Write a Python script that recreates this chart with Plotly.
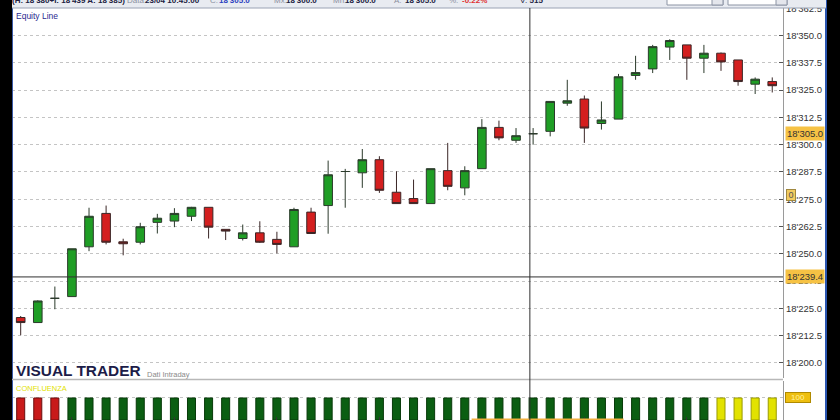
import plotly.graph_objects as go

# ---------------- data ----------------
bar_index = list(range(45))
opens = [18220.8, 18218.5, 18229.6, 18230.4, 18253.2, 18268.5, 18255.5, 18255.3, 18264.4, 18265.0,
         18267.2, 18271.3, 18261.2, 18257.0, 18259.6, 18256.6, 18253.2, 18269.1, 18272.1, 18287.7,
         18287.1, 18293.1, 18278.2, 18275.3, 18273.0, 18288.1, 18280.2, 18289.0, 18307.9, 18302.0,
         18305.0, 18306.1, 18319.0, 18320.9, 18309.7, 18311.7, 18331.7, 18334.7, 18344.7, 18345.7,
         18339.6, 18341.9, 18338.8, 18327.7, 18328.9]
highs = [18221.5, 18228.7, 18235.0, 18252.3, 18271.1, 18272.1, 18256.9, 18264.2, 18268.3, 18270.9,
         18271.5, 18271.3, 18261.2, 18263.4, 18264.9, 18260.1, 18271.1, 18271.1, 18292.7, 18288.9,
         18298.0, 18294.7, 18287.8, 18284.0, 18289.0, 18300.8, 18290.1, 18311.7, 18311.0, 18307.6,
         18307.6, 18319.8, 18329.7, 18322.5, 18319.8, 18332.4, 18340.7, 18345.7, 18348.3, 18345.7,
         18345.7, 18342.2, 18338.8, 18330.8, 18330.8]
lows = [18212.7, 18218.5, 18224.6, 18230.4, 18251.2, 18254.3, 18249.3, 18254.3, 18259.3, 18262.2,
        18265.0, 18257.0, 18256.3, 18256.1, 18255.0, 18250.2, 18253.2, 18259.3, 18259.2, 18271.1,
        18280.2, 18277.9, 18273.0, 18273.0, 18273.0, 18279.1, 18276.8, 18289.0, 18302.0, 18300.8,
        18300.0, 18303.8, 18317.8, 18300.8, 18306.9, 18311.7, 18329.7, 18332.8, 18338.8, 18329.7,
        18332.8, 18333.8, 18327.0, 18323.2, 18323.9]
closes = [18218.5, 18228.4, 18229.6, 18252.3, 18267.2, 18255.3, 18254.6, 18262.4, 18266.3, 18268.5,
          18271.3, 18262.2, 18260.4, 18259.6, 18255.3, 18254.3, 18270.3, 18259.3, 18286.2, 18287.7,
          18293.1, 18279.1, 18273.0, 18273.0, 18289.0, 18280.9, 18288.1, 18307.9, 18303.1, 18304.1,
          18305.0, 18319.8, 18320.1, 18307.6, 18311.3, 18331.1, 18333.0, 18344.9, 18347.7, 18339.6,
          18341.9, 18337.9, 18328.9, 18330.0, 18327.0]

confluenza_values = [100] * 45
confluenza_state = ["neg", "neg", "neg", "pos", "pos", "pos", "pos", "pos", "pos", "pos",
                    "pos", "pos", "pos", "pos", "pos", "pos", "pos", "pos", "pos", "pos",
                    "pos", "pos", "pos", "pos", "pos", "pos", "pos", "pos", "pos", "pos",
                    "pos", "pos", "pos", "pos", "pos", "pos", "pos", "pos", "pos", "pos",
                    "pos", "neu", "neu", "neu", "neu"]

y_ticks = [18200.0, 18212.5, 18225.0, 18237.5, 18250.0, 18262.5, 18275.0, 18287.5,
           18300.0, 18312.5, 18325.0, 18337.5, 18350.0, 18362.5]
y_tick_labels = ["18'200.0", "18'212.5", "18'225.0", "18'237.5", "18'250.0", "18'262.5", "18'275.0",
                 "18'287.5", "18'300.0", "18'312.5", "18'325.0", "18'337.5", "18'350.0", "18'362.5"]
time_tick_index = [3, 9, 15, 21, 27, 33, 39]
time_highlight = [26.4, 35.3]

cross_index = 29.81
cross_price = 18239.4
last_price = 18305.0
last_price_label = "18'305.0"
cross_price_label = "18'239.4"
indicator_zero_price = 18277.0
confluenza_label = "100"

# ---------------- layout helpers ----------------
W, H = 840, 420
ML, MR, MT, MB = 12, 57, 8, 0
PW, PH = W - ML - MR, H - MT - MB


def px_x(p):
    return (p - ML) / PW


def px_y(p):
    return (H - MB - p) / PH


state_colors = {"neg": "#c81a1a", "pos": "#0b5e12", "neu": "#e2e200"}
state_lines = {"neg": "#6a0e0e", "pos": "#083a0a", "neu": "#9a9a00"}

fig = go.Figure()
fig.add_trace(go.Candlestick(
    x=bar_index, open=opens, high=highs, low=lows, close=closes,
    increasing=dict(fillcolor="#1f9e25", line=dict(color="#2b3a2b", width=1)),
    decreasing=dict(fillcolor="#d41f1f", line=dict(color="#3a2626", width=1)),
    whiskerwidth=0, xaxis="x", yaxis="y", hoverinfo="skip", showlegend=False,
))
fig.add_trace(go.Bar(
    x=bar_index, y=confluenza_values, width=0.47,
    marker=dict(color=[state_colors[s] for s in confluenza_state],
                line=dict(color=[state_lines[s] for s in confluenza_state], width=1)),
    xaxis="x2", yaxis="y2", hoverinfo="skip", showlegend=False,
))

fam = "Liberation Sans, Arial, sans-serif"
tickfont = dict(family=fam, size=9.5, color="#333333")
fig.update_layout(
    width=W, height=H, margin=dict(l=ML, r=MR, t=MT, b=MB, pad=0),
    paper_bgcolor="white", plot_bgcolor="white", boxgap=0.28,
    showlegend=False, hovermode=False,
    xaxis=dict(domain=[0, 1], range=[-0.509, 44.63], showticklabels=False, showgrid=False,
               zeroline=False, ticks="", rangeslider=dict(visible=False), anchor="y",
               fixedrange=True),
    yaxis=dict(domain=[px_y(378), 1], range=[18193.1, 18362.6], side="right", anchor="x",
               tickvals=y_ticks, ticktext=y_tick_labels, tickfont=tickfont,
               ticks="inside", ticklen=4, tickcolor="#555555",
               showgrid=True, gridcolor="#c4c4c4", griddash="3px,3px", gridwidth=1,
               showline=True, linecolor="#9a9a9a", linewidth=1, zeroline=False),
    xaxis2=dict(domain=[0, 1], range=[-0.509, 44.63], matches="x", anchor="y2",
                showticklabels=False, showgrid=False, zeroline=False,
                tickvals=time_tick_index, ticks="inside", ticklen=3, tickcolor="#333333",
                showline=False),
    yaxis2=dict(domain=[0, px_y(381)], range=[0, 177], side="right", anchor="x2",
                tickvals=[100], showticklabels=False, ticks="",
                showgrid=True, gridcolor="#c4c4c4", griddash="3px,3px",
                showline=True, linecolor="#9a9a9a", zeroline=False),
)

shapes = []
# left black strip & right black frame
shapes.append(dict(type="rect", xref="paper", yref="paper", x0=px_x(0), x1=px_x(12),
                   y0=px_y(420), y1=px_y(0), fillcolor="black", line=dict(width=0), layer="above"))
shapes.append(dict(type="rect", xref="paper", yref="paper", x0=px_x(827), x1=px_x(840),
                   y0=px_y(420), y1=px_y(0), fillcolor="black", line=dict(width=0), layer="above"))
shapes.append(dict(type="line", xref="paper", yref="paper", x0=px_x(826), x1=px_x(826),
                   y0=px_y(420), y1=px_y(0), line=dict(color="#2a55b0", width=2), layer="above"))
shapes.append(dict(type="line", xref="paper", yref="paper", x0=px_x(12.5), x1=px_x(12.5),
                   y0=px_y(420), y1=px_y(8), line=dict(color="#3a5aa8", width=1), layer="above"))
# header strip
shapes.append(dict(type="rect", xref="paper", yref="paper", x0=px_x(12), x1=px_x(826),
                   y0=px_y(8), y1=px_y(0), fillcolor="#e8ebf1", line=dict(width=0), layer="above"))
shapes.append(dict(type="line", xref="paper", yref="paper", x0=px_x(12), x1=px_x(826),
                   y0=px_y(8), y1=px_y(8), line=dict(color="#9aa2b4", width=1), layer="above"))
for a, b in [(667, 723), (728, 787)]:
    shapes.append(dict(type="rect", xref="paper", yref="paper", x0=px_x(a), x1=px_x(b),
                       y0=px_y(5), y1=px_y(-2), fillcolor="white",
                       line=dict(color="#8c94a4", width=1), layer="above"))
    shapes.append(dict(type="rect", xref="paper", yref="paper", x0=px_x(b - 11), x1=px_x(b),
                       y0=px_y(5), y1=px_y(-2), fillcolor="#e4e6ec",
                       line=dict(color="#8c94a4", width=1), layer="above"))
# panel separator
shapes.append(dict(type="line", xref="paper", yref="paper", x0=0, x1=1,
                   y0=px_y(379.5), y1=px_y(379.5), line=dict(color="#b8b8b8", width=1.5)))
# time-axis highlight at the very bottom
shapes.append(dict(type="line", xref="x2", yref="paper", x0=time_highlight[0], x1=time_highlight[1],
                   y0=px_y(419.5), y1=px_y(419.5), line=dict(color="#f0b040", width=2)))
# crosshair
shapes.append(dict(type="line", xref="paper", yref="y", x0=0, x1=1,
                   y0=cross_price, y1=cross_price, line=dict(color="#303030", width=1)))
shapes.append(dict(type="line", xref="x", yref="paper", x0=cross_index, x1=cross_index,
                   y0=0, y1=1, line=dict(color="#303030", width=1)))
fig.update_layout(shapes=shapes)

ann = []
grey = "#8a90a0"
header_parts = [
    (10, "<b>(H: 18'380+I: 18'439 A: 18'385)</b>", "#202040"),
    (125, "Data:", grey),
    (143, "<b>23/04 10:45:00</b>", "#202040"),
    (208, "C:", grey),
    (217, "<b>18'305.0</b>", "#2a40c0"),
    (272, "Mx:", grey),
    (284, "<b>18'300.0</b>", "#202040"),
    (331, "Mn:", grey),
    (343, "<b>18'300.0</b>", "#202040"),
    (392, "A:", grey),
    (403, "<b>18'305.0</b>", "#202040"),
    (447, "%:", grey),
    (460, "<b>-0.22%</b>", "#e03030"),
    (518, "V: <b>515</b>", "#202040"),
]
for xp, txt, col in header_parts:
    ann.append(dict(xref="paper", yref="paper", x=px_x(xp), y=px_y(1.0), xanchor="left",
                    yanchor="middle", text=txt, showarrow=False,
                    font=dict(family=fam, size=8, color=col)))

ann.append(dict(xref="paper", yref="paper", x=px_x(14), y=px_y(16), xanchor="left",
                yanchor="middle", text="Equity Line", showarrow=False,
                font=dict(family=fam, size=8.5, color="#2a2a90")))
ann.append(dict(xref="paper", yref="paper", x=px_x(14), y=px_y(370), xanchor="left",
                yanchor="middle", text="<b>VISUAL TRADER</b>", showarrow=False,
                font=dict(family=fam, size=15.4, color="#1c1c48")))
ann.append(dict(xref="paper", yref="paper", x=px_x(145), y=px_y(374), xanchor="left",
                yanchor="middle", text="Dati Intraday", showarrow=False,
                font=dict(family=fam, size=7.5, color="#8a8a8a")))
ann.append(dict(xref="paper", yref="paper", x=px_x(14), y=px_y(388), xanchor="left",
                yanchor="middle", text="CONFLUENZA", showarrow=False,
                font=dict(family=fam, size=7.5, color="#e2e200")))

lab_font = dict(family=fam, size=9.5, color="#333333")
ann.append(dict(xref="paper", yref="y", x=px_x(785), y=last_price, xanchor="left",
                yanchor="middle", text=last_price_label, showarrow=False, font=lab_font,
                bgcolor="#f6c244", borderpad=1))
ann.append(dict(xref="paper", yref="y", x=px_x(785), y=cross_price, xanchor="left",
                yanchor="middle", text=cross_price_label, showarrow=False, font=lab_font,
                bgcolor="#f6c244", borderpad=1))
ann.append(dict(xref="paper", yref="y", x=px_x(786), y=indicator_zero_price, xanchor="left",
                yanchor="middle", text="0", showarrow=False, width=8, height=10,
                font=dict(family=fam, size=9, color="#555555"),
                bgcolor="#f2cc60", bordercolor="#a08840", borderwidth=1, borderpad=0))
ann.append(dict(xref="paper", yref="y2", x=px_x(785), y=100, xanchor="left",
                yanchor="middle", text=confluenza_label, showarrow=False, width=24, height=9,
                font=dict(family=fam, size=8, color="#fff2a0"),
                bgcolor="#eebf10", bordercolor="#b08a00", borderwidth=1, borderpad=0))
fig.update_layout(annotations=ann)

fig.write_html(
    "out.html",
    config={"displayModeBar": False},
    post_script="document.body.style.margin='0';document.body.style.overflow='hidden';",
)
